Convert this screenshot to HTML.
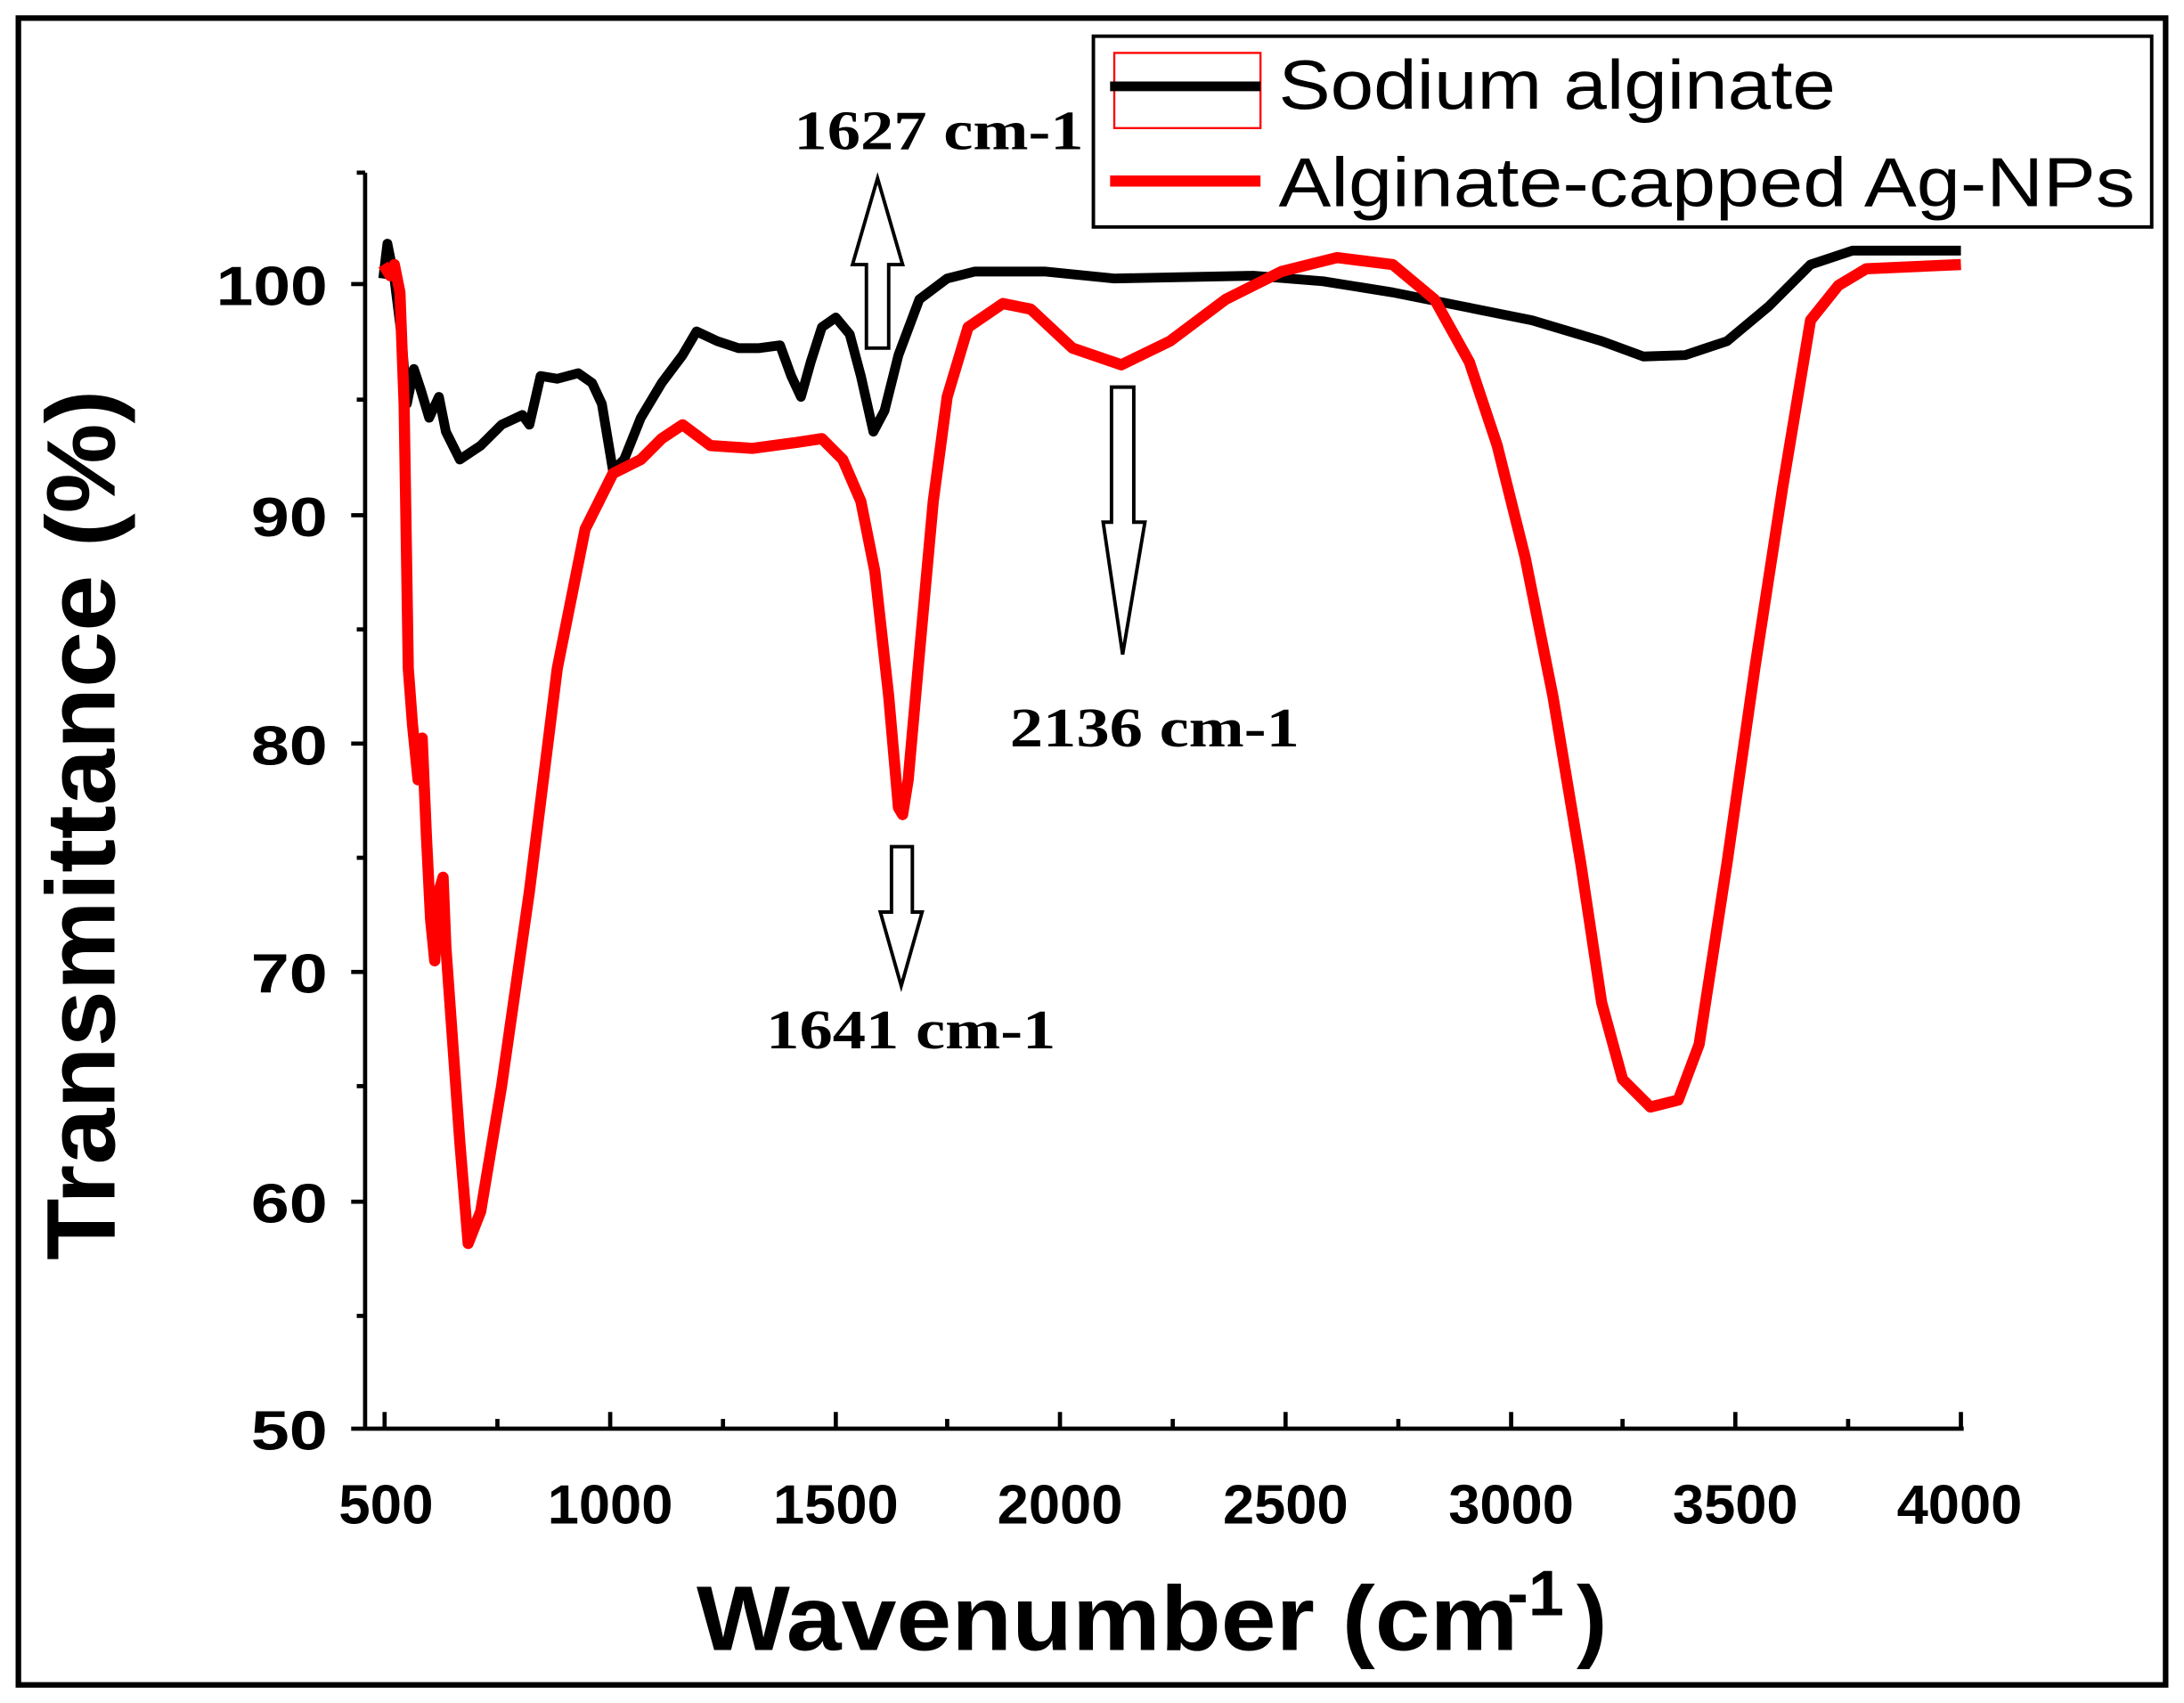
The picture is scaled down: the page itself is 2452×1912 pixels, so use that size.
<!DOCTYPE html>
<html><head><meta charset="utf-8"><style>html,body{margin:0;padding:0;background:#fff}svg{display:block}</style></head>
<body>
<svg width="2452" height="1912" viewBox="0 0 1568 1223" xmlns="http://www.w3.org/2000/svg">
<rect x="0" y="0" width="1568" height="1223" fill="#fff"/>
<rect x="13" y="13" width="1542" height="1197" fill="none" stroke="#000" stroke-width="4"/>
<g stroke="#000" stroke-width="3" fill="none">
<line x1="262" y1="124" x2="262" y2="1027"/>
<line x1="262" y1="1026" x2="1410" y2="1026"/>
<line x1="252" y1="204" x2="262" y2="204"/><line x1="252" y1="370" x2="262" y2="370"/><line x1="252" y1="534" x2="262" y2="534"/><line x1="252" y1="698" x2="262" y2="698"/><line x1="252" y1="863" x2="262" y2="863"/><line x1="252" y1="1026" x2="262" y2="1026"/>
<line x1="256" y1="124" x2="262" y2="124"/><line x1="256" y1="287" x2="262" y2="287"/><line x1="256" y1="452" x2="262" y2="452"/><line x1="256" y1="616" x2="262" y2="616"/><line x1="256" y1="780" x2="262" y2="780"/><line x1="256" y1="945" x2="262" y2="945"/>
<line x1="276" y1="1026" x2="276" y2="1014"/><line x1="438" y1="1026" x2="438" y2="1014"/><line x1="600" y1="1026" x2="600" y2="1014"/><line x1="761" y1="1026" x2="761" y2="1014"/><line x1="923" y1="1026" x2="923" y2="1014"/><line x1="1085" y1="1026" x2="1085" y2="1014"/><line x1="1246" y1="1026" x2="1246" y2="1014"/><line x1="1408" y1="1026" x2="1408" y2="1014"/>
<line x1="357" y1="1026" x2="357" y2="1019"/><line x1="519" y1="1026" x2="519" y2="1019"/><line x1="680" y1="1026" x2="680" y2="1019"/><line x1="842" y1="1026" x2="842" y2="1019"/><line x1="1004" y1="1026" x2="1004" y2="1019"/><line x1="1165" y1="1026" x2="1165" y2="1019"/><line x1="1327" y1="1026" x2="1327" y2="1019"/>
</g>
<g font-family="Liberation Sans, sans-serif" font-weight="bold" font-size="40" fill="#000" lengthAdjust="spacingAndGlyphs">
<text x="155" y="219" textLength="80" lengthAdjust="spacingAndGlyphs">100</text>
<text x="180" y="385" textLength="55" lengthAdjust="spacingAndGlyphs">90</text>
<text x="180" y="549" textLength="55" lengthAdjust="spacingAndGlyphs">80</text>
<text x="180" y="713" textLength="55" lengthAdjust="spacingAndGlyphs">70</text>
<text x="180" y="878" textLength="55" lengthAdjust="spacingAndGlyphs">60</text>
<text x="180" y="1041" textLength="55" lengthAdjust="spacingAndGlyphs">50</text>
<text x="243" y="1094" textLength="68" lengthAdjust="spacingAndGlyphs">500</text>
<text x="393" y="1094" textLength="90" lengthAdjust="spacingAndGlyphs">1000</text>
<text x="555" y="1094" textLength="90" lengthAdjust="spacingAndGlyphs">1500</text>
<text x="716" y="1094" textLength="90" lengthAdjust="spacingAndGlyphs">2000</text>
<text x="878" y="1094" textLength="90" lengthAdjust="spacingAndGlyphs">2500</text>
<text x="1040" y="1094" textLength="90" lengthAdjust="spacingAndGlyphs">3000</text>
<text x="1201" y="1094" textLength="90" lengthAdjust="spacingAndGlyphs">3500</text>
<text x="1362" y="1094" textLength="90" lengthAdjust="spacingAndGlyphs">4000</text>
<text x="500" y="1185" font-size="66" textLength="590" lengthAdjust="spacingAndGlyphs">Wavenumber (cm</text>
<text x="1082" y="1160" font-size="46">-1</text>
<text x="1132" y="1185" font-size="66">)</text>
<text transform="translate(82,905) rotate(-90)" font-size="70" textLength="625" lengthAdjust="spacingAndGlyphs">Transmittance (%)</text>
</g>
<polyline fill="none" stroke="#000" stroke-width="7" stroke-linejoin="round" points="275,200 278,175 283,200 288,240 292,290 297,265 302,280 308,300 315,285 320,310 330,330 345,320 360,305 375,298 380,305 388,270 400,272 415,268 425,275 432,290 440,338 448,330 460,300 475,275 490,255 500,238 515,245 530,250 545,250 560,248 568,270 575,285 582,260 590,235 600,228 610,240 618,270 627,310 635,295 645,255 660,215 680,200 700,195 750,195 800,200 900,198 950,202 1000,210 1050,220 1100,230 1150,245 1180,256 1210,255 1240,245 1270,220 1300,190 1330,180 1408,180"/>
<polyline fill="none" stroke="#f00" stroke-width="8" stroke-linejoin="round" points="275,190 280,198 283,190 287,210 290,290 293,480 296,520 300,560 303,530 306,600 309,660 312,690 315,640 318,630 320,680 325,750 330,820 336,893 345,870 360,780 380,640 400,480 420,380 440,340 460,330 475,315 490,305 510,320 540,322 570,318 590,315 605,330 618,360 628,410 638,500 645,580 648,585 652,560 660,470 670,360 680,285 695,235 720,218 740,222 770,250 805,262 840,245 880,215 920,195 960,185 1000,190 1030,215 1055,260 1075,320 1095,400 1115,500 1135,620 1150,720 1165,775 1185,795 1205,790 1220,750 1240,620 1260,480 1280,350 1300,230 1320,205 1340,193 1408,190"/>
<g fill="#fff" stroke="#000" stroke-width="2.5">
<polygon points="622,250 638,250 638,190 648,190 630,128 612,190 622,190"/>
<polygon points="640,608 655,608 655,655 662,655 647,708 632,655 640,655"/>
<polygon points="798,278 814,278 814,375 822,375 806,470 792,375 798,375"/>
</g>
<g font-family="Liberation Serif, serif" font-weight="bold" font-size="40" fill="#000">
<text x="570" y="107" textLength="208" lengthAdjust="spacingAndGlyphs">1627 cm-1</text>
<text x="550" y="753" textLength="208" lengthAdjust="spacingAndGlyphs">1641 cm-1</text>
<text x="725" y="536" textLength="208" lengthAdjust="spacingAndGlyphs">2136 cm-1</text>
</g>
<rect x="785" y="26" width="760" height="137" fill="#fff" stroke="#000" stroke-width="2.5"/>
<rect x="800" y="38" width="105" height="54" fill="none" stroke="#f00" stroke-width="1.5"/>
<line x1="797" y1="62" x2="905" y2="62" stroke="#000" stroke-width="7"/>
<line x1="797" y1="130" x2="905" y2="130" stroke="#f00" stroke-width="8"/>
<g font-family="Liberation Sans, sans-serif" font-size="50" fill="#000">
<text x="918" y="78" textLength="400" lengthAdjust="spacingAndGlyphs">Sodium alginate</text>
<text x="918" y="148" textLength="615" lengthAdjust="spacingAndGlyphs">Alginate-capped Ag-NPs</text>
</g>
</svg>
</body></html>
